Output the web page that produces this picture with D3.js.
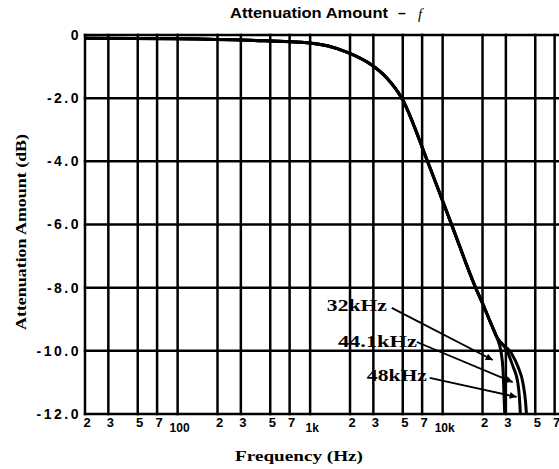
<!DOCTYPE html>
<html><head><meta charset="utf-8">
<script src="https://cdn.jsdelivr.net/npm/d3@7/dist/d3.min.js"></script>
<style>body{margin:0;background:#fff}svg{display:block}</style>
</head><body>
<svg id="c" width="559" height="469"></svg>
<script>
// ---- data ----
const gridFreqs = [20,30,50,70,100,200,300,500,700,1000,2000,3000,5000,7000,10000,20000,30000,50000,70000];
const xTickLabels = ["2","3","5","7","100","2","3","5","7","1k","2","3","5","7","10k","2","3","5","7"];
const yTickValues = [0,-2,-4,-6,-8,-10,-12];
const yTickLabels = ["0","-2.0","-4.0","-6.0","-8.0","-10.0","-12.0"];

// common roll-off (Hz, dB)
const mainFreq = [20,104,351,996,1892,2920,3790,4920,7720,11720,17770,20400,23060,25580];
const mainDb   = [-0.1,-0.12,-0.17,-0.25,-0.54,-0.95,-1.36,-2.0,-4.02,-6.02,-8.01,-8.58,-9.12,-9.56];
// branches per sampling rate
const fs32Freq = [27700,28560,28900,29400];
const fs32Db   = [-10.08,-10.61,-11.14,-12.0];
const fs441Freq = [30300,34000,37000,38200,38600];
const fs441Db   = [-9.97,-10.5,-11.03,-11.65,-12.0];
const fs48Freq = [33000,37000,40400,42300,42900];
const fs48Db   = [-10.08,-10.5,-11.03,-11.65,-12.0];

// annotations: label, label anchor, arrow start, arrow end (Hz, dB)
const annLabels = ["32kHz","44.1kHz","48kHz"];
const annLabelF = [1337,1620,2680];
const annLabelDb = [-8.74,-9.88,-10.96];
const annFromF = [4130,6380,7990];
const annFromDb = [-8.64,-9.72,-10.86];
const annToF = [23880,33780,36200];
const annToDb = [-10.29,-10.99,-11.46];
const annWidths = [60,79,60];

// ---- drawing ----
const svg = d3.select("#c");
const x = d3.scaleLog().domain([20,75000]).range([85,558.6]);
const y = d3.scaleLinear().domain([-12,0]).range([414,35]);

svg.append("defs").append("marker")
  .attr("id","ah").attr("viewBox","0 0 10 10").attr("refX",10).attr("refY",5)
  .attr("markerWidth",9).attr("markerHeight",7).attr("markerUnits","userSpaceOnUse")
  .attr("orient","auto")
  .append("path").attr("d","M0,0L10,5L0,10z").attr("fill","#000");

// grid
const g = svg.append("g");
g.selectAll("line.v").data(gridFreqs).join("line")
  .attr("x1",d=>x(d)).attr("x2",d=>x(d)).attr("y1",y(0)-1.2).attr("y2",y(-12)+1.2)
  .attr("stroke","#000").attr("stroke-width",2.5);
g.selectAll("line.h").data(yTickValues).join("line")
  .attr("x1",x(20)-1.2).attr("x2",559).attr("y1",d=>y(d)).attr("y2",d=>y(d))
  .attr("stroke","#000").attr("stroke-width",2.5);

// axes labels via d3 axes
const xa = d3.axisBottom(x).tickValues(gridFreqs).tickSize(0).tickPadding(3)
  .tickFormat((d,i)=>xTickLabels[i]);
const xg = svg.append("g").attr("transform",`translate(1.5,${y(-12)})`).call(xa);
xg.select(".domain").remove();
xg.selectAll("text").attr("font-family","Liberation Sans, Arial, sans-serif")
  .attr("font-weight","bold").attr("font-size",13).attr("fill","#000")
  .attr("dy",(d,i)=>xTickLabels[i].length>1?"1.25em":"0.75em")
  .attr("font-size",(d,i)=>xTickLabels[i].length>1?12:13);

const ya = d3.axisLeft(y).tickValues(yTickValues).tickSize(0).tickPadding(4)
  .tickFormat((d,i)=>yTickLabels[i]);
const yg = svg.append("g").attr("transform",`translate(${x(20)},0)`).call(ya);
yg.select(".domain").remove();
yg.selectAll("text").attr("font-family","Liberation Sans, Arial, sans-serif")
  .attr("font-weight","bold").attr("font-size",14).attr("fill","#000")
  .attr("letter-spacing","2.5px");

// curves
const line = d3.line().x(d=>x(d[0])).y(d=>y(d[1])).curve(d3.curveMonotoneX);
const main = mainFreq.map((f,i)=>[f,mainDb[i]]);
const branches = [
  [fs32Freq,fs32Db],[fs441Freq,fs441Db],[fs48Freq,fs48Db]
];
branches.forEach(([fr,db])=>{
  const pts = main.concat(fr.map((f,i)=>[f,db[i]]));
  svg.append("path").attr("d",line(pts)).attr("fill","none")
    .attr("stroke","#000").attr("stroke-width",3).attr("stroke-linejoin","round");
});

// annotations
annLabels.forEach((t,i)=>{
  svg.append("line")
    .attr("x1",x(annFromF[i])).attr("y1",y(annFromDb[i]))
    .attr("x2",x(annToF[i])).attr("y2",y(annToDb[i]))
    .attr("stroke","#000").attr("stroke-width",1.8).attr("marker-end","url(#ah)");
  svg.append("text").attr("x",x(annLabelF[i])).attr("y",y(annLabelDb[i]))
    .attr("font-family","Liberation Serif, serif").attr("font-weight","bold")
    .attr("font-size",16).attr("textLength",annWidths[i]).attr("lengthAdjust","spacingAndGlyphs")
    .text(t);
});

// titles
svg.append("text").attr("x",230).attr("y",18)
  .attr("font-family","Liberation Sans, Arial, sans-serif").attr("font-weight","bold")
  .attr("font-size",14).attr("textLength",158).attr("lengthAdjust","spacingAndGlyphs")
  .text("Attenuation Amount");
svg.append("text").attr("x",398).attr("y",18)
  .attr("font-family","Liberation Sans, Arial, sans-serif").attr("font-weight","bold")
  .attr("font-size",14).text("–");
svg.append("text").attr("x",418).attr("y",19)
  .attr("font-family","Liberation Serif, serif").attr("font-style","italic")
  .attr("font-size",15).text("f");

svg.append("text").attr("transform","translate(26,232) rotate(-90)")
  .attr("text-anchor","middle")
  .attr("font-family","Liberation Serif, serif").attr("font-weight","bold")
  .attr("font-size",14).attr("textLength",196).attr("lengthAdjust","spacingAndGlyphs")
  .text("Attenuation Amount (dB)");

svg.append("text").attr("x",299).attr("y",461).attr("text-anchor","middle")
  .attr("font-family","Liberation Serif, serif").attr("font-weight","bold")
  .attr("font-size",15).attr("textLength",128).attr("lengthAdjust","spacingAndGlyphs")
  .text("Frequency (Hz)");
</script>
</body></html>
